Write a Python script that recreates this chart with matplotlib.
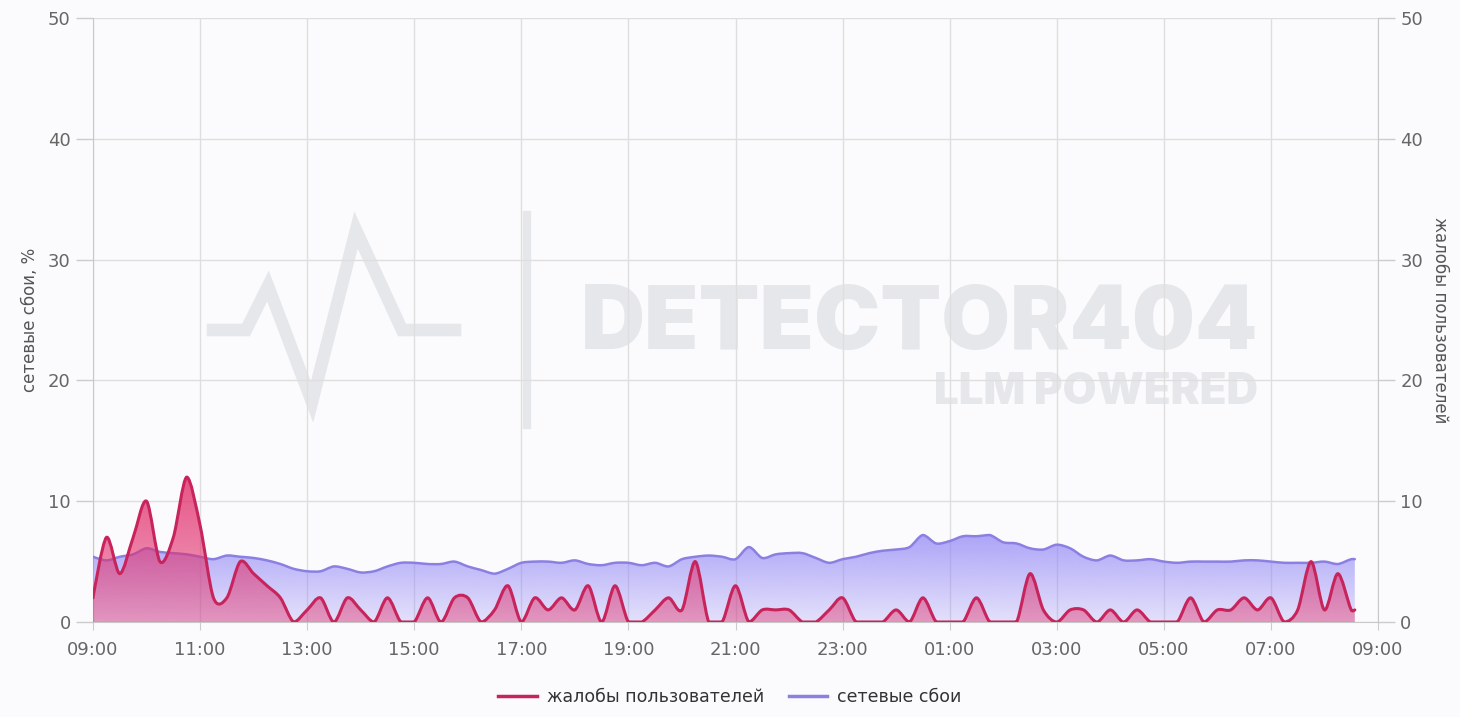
import numpy as np
import pandas as pd
import matplotlib
matplotlib.use("Agg")
import matplotlib.pyplot as plt
from matplotlib.path import Path
from matplotlib.patches import PathPatch
from matplotlib.lines import Line2D
from matplotlib.ticker import MultipleLocator, FuncFormatter
from matplotlib.colors import to_rgba

# --- data (15-minute samples, last one is partial) ---
START = "2024-01-01 09:00"
STEP = "15min"
LAST_TIME = "2024-01-02 08:34"

complaints = [2, 7, 4, 7, 10, 5, 7, 12, 8, 2, 2, 5, 4, 3, 2, 0, 1, 2, 0, 2, 1, 0, 2, 0,
              0, 2, 0, 2, 2, 0, 1, 3, 0, 2, 1, 2, 1, 3, 0, 3, 0, 0, 1, 2, 1, 5, 0, 0,
              3, 0, 1, 1, 1, 0, 0, 1, 2, 0, 0, 0, 1, 0, 2, 0, 0, 0, 2, 0, 0, 0, 4, 1,
              0, 1, 1, 0, 1, 0, 1, 0, 0, 0, 2, 0, 1, 1, 2, 1, 2, 0, 1, 5, 1, 4, 1, 1]

network = [5.4, 5.1, 5.4, 5.6, 6.1, 5.8, 5.7, 5.6, 5.4, 5.2, 5.5, 5.4, 5.3, 5.1, 4.8, 4.4, 4.2, 4.2, 4.6, 4.4, 4.1, 4.2, 4.6, 4.9,
           4.9, 4.8, 4.8, 5.0, 4.6, 4.3, 4.0, 4.4, 4.9, 5.0, 5.0, 4.9, 5.1, 4.8, 4.7, 4.9, 4.9, 4.7, 4.9, 4.6, 5.2, 5.4, 5.5, 5.4,
           5.2, 6.2, 5.3, 5.6, 5.7, 5.7, 5.3, 4.9, 5.2, 5.4, 5.7, 5.9, 6.0, 6.2, 7.2, 6.5, 6.7, 7.1, 7.1, 7.2, 6.6, 6.5, 6.1, 6.0,
           6.4, 6.1, 5.4, 5.1, 5.5, 5.1, 5.1, 5.2, 5.0, 4.9, 5.0, 5.0, 5.0, 5.0, 5.1, 5.1, 5.0, 4.9, 4.9, 4.9, 5.0, 4.8, 5.2, 5.2]

LABEL_COMPLAINTS = "жалобы пользователей"
LABEL_NETWORK = "сетевые сбои"
YLABEL_LEFT = "сетевые сбои, %"
YLABEL_RIGHT = "жалобы пользователей"

times = pd.date_range(START, periods=len(complaints) - 1, freq=STEP).append(pd.DatetimeIndex([LAST_TIME]))
hours = np.asarray((times - times[0]).total_seconds() / 3600.0)

# --- style ---
BG = "#fbfbfd"
PINK_LINE = "#c8245c"
PINK_FILL = "#e2306c"
PURPLE_LINE = "#8b80e2"
PURPLE_FILL = "#8f83f5"
GRID = "#dedede"
TICK_COL = "#666666"
plt.rcParams["font.family"] = ["DejaVu Sans"]


def smooth_paths(x, y, smooth=0.3):
    """Bezier line + closed area path through the points (echarts-like smoothing)."""
    x = np.asarray(x, float)
    y = np.asarray(y, float)
    n = len(x)
    lo, hi = y.min(), y.max()
    cin = np.zeros((n, 2))
    cout = np.zeros((n, 2))
    for i in range(n):
        if i == 0 or i == n - 1:
            cin[i] = cout[i] = (x[i], y[i])
            continue
        vx, vy = x[i + 1] - x[i - 1], y[i + 1] - y[i - 1]
        d0, d1 = x[i] - x[i - 1], x[i + 1] - x[i]
        r = d0 / (d0 + d1)
        cin[i] = (x[i] - vx * smooth * r, np.clip(y[i] - vy * smooth * r, lo, hi))
        cout[i] = (x[i] + vx * smooth * (1 - r), np.clip(y[i] + vy * smooth * (1 - r), lo, hi))
    verts = [(x[0], y[0])]
    codes = [Path.MOVETO]
    for i in range(n - 1):
        verts += [tuple(cout[i]), tuple(cin[i + 1]), (x[i + 1], y[i + 1])]
        codes += [Path.CURVE4] * 3
    line = Path(verts, codes)
    averts = verts + [(x[-1], 0), (x[0], 0), (x[0], 0)]
    acodes = codes + [Path.LINETO, Path.LINETO, Path.CLOSEPOLY]
    area = Path(averts, acodes)
    return line, area


def draw_series(ax, x, y, line_col, fill_col, a_top, a_bot, lw, z):
    line, area = smooth_paths(x, y)
    rgb = to_rgba(fill_col)[:3]
    img = np.zeros((256, 1, 4))
    img[:, 0, :3] = rgb
    img[:, 0, 3] = np.linspace(a_bot, a_top, 256)
    im = ax.imshow(img, extent=[x[0], x[-1], 0, max(y)], origin="lower",
                   aspect="auto", interpolation="bilinear", zorder=z)
    clip = PathPatch(area, transform=ax.transData, facecolor="none", edgecolor="none")
    ax.add_patch(clip)
    im.set_clip_path(clip)
    ax.add_patch(PathPatch(line, transform=ax.transData, facecolor="none",
                           edgecolor=line_col, lw=lw, zorder=z + 1, capstyle="round",
                           joinstyle="round"))


fig = plt.figure(figsize=(14.6, 7.17), dpi=100, facecolor=BG)
ax = fig.add_axes([93 / 1460, 1 - 622 / 717, (1378 - 93) / 1460, (622 - 18) / 717])
ax.patch.set_visible(False)
ax2 = ax.twinx()
ax2.patch.set_visible(False)

# watermark
WM = "#e5e7ea"
WM_FONT = ["Inter", "Liberation Sans"]
fig.text(1258 / 1460, 1 - 326 / 717, "DETECTOR404", fontsize=64, fontweight=900,
         family=WM_FONT, color=WM, ha="right", va="center", zorder=-1)
fig.text(1258 / 1460, 1 - 392 / 717, "LLM POWERED", fontsize=31.5, fontweight=900,
         family=WM_FONT, color=WM, ha="right", va="center", zorder=-1)
fig.add_artist(Line2D([527 / 1460, 527 / 1460], [1 - 215 / 717, 1 - 425 / 717],
                      color=WM, lw=6, transform=fig.transFigure, zorder=-1))
hb_x = np.array([213, 246, 268, 312, 356, 402, 455]) / 1460
hb_y = 1 - np.array([330, 330, 286, 402, 230, 330, 330]) / 717
fig.add_artist(Line2D(hb_x, hb_y, color=WM, lw=9, transform=fig.transFigure,
                      solid_joinstyle="miter", zorder=-1))

draw_series(ax, hours, network, PURPLE_LINE, PURPLE_FILL, 0.72, 0.22, 1.8, 3)
draw_series(ax2, hours, complaints, PINK_LINE, PINK_FILL, 0.82, 0.42, 2.2, 3)

for a in (ax, ax2):
    a.set_xlim(0, 24)
    a.set_ylim(0, 50)
    a.yaxis.set_major_locator(MultipleLocator(10))
    a.tick_params(axis="y", length=12, width=1, color="#cccccc", labelsize=13,
                  labelcolor=TICK_COL, pad=4)
    for s in a.spines.values():
        s.set_visible(False)

ax.xaxis.set_major_locator(MultipleLocator(2))
ax.xaxis.set_major_formatter(FuncFormatter(lambda h, _: f"{(9 + int(round(h))) % 24:02d}:00"))
ax.tick_params(axis="x", length=6, color="#cccccc", labelsize=13, labelcolor=TICK_COL, pad=8)
ax.grid(True, color=GRID, lw=1)
ax.set_axisbelow(True)
for side in ("left", "bottom"):
    ax.spines[side].set_visible(True)
    ax.spines[side].set_color("#c8c8c8")
ax2.spines["right"].set_visible(True)
ax2.spines["right"].set_color("#c8c8c8")

fig.text(30 / 1460, 1 - 320 / 717, YLABEL_LEFT, rotation=90, fontsize=12,
         color="#555555", ha="center", va="center")
fig.text(1440 / 1460, 1 - 320 / 717, YLABEL_RIGHT, rotation=270, fontsize=12,
         color="#555555", ha="center", va="center")

handles = [Line2D([], [], color=PINK_LINE, lw=2.5), Line2D([], [], color=PURPLE_LINE, lw=2.5)]
fig.legend(handles, [LABEL_COMPLAINTS, LABEL_NETWORK], loc="center",
           bbox_to_anchor=(0.5, 1 - 697 / 717), ncol=2, frameon=False, fontsize=12.5,
           labelcolor="#333333", handlelength=2.2, handletextpad=0.6, columnspacing=1.4)

fig.savefig("out.png", dpi=100, facecolor=BG)
